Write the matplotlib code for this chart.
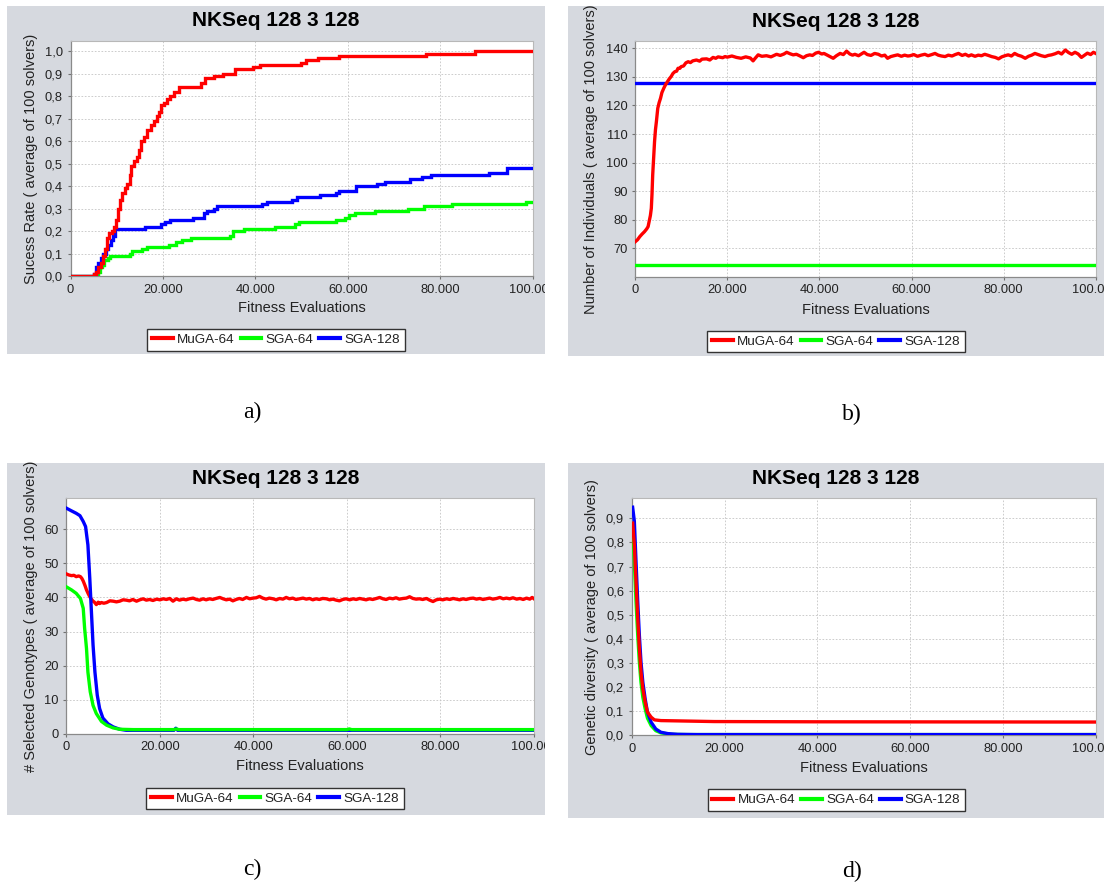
import numpy as np
import matplotlib
matplotlib.use("Agg")
import matplotlib.pyplot as plt
from matplotlib.patches import Rectangle
from matplotlib.lines import Line2D
from matplotlib.transforms import Bbox, TransformedBbox

# ---------------- data ----------------
series_names = ["MuGA-64", "SGA-64", "SGA-128"]
chart_title = "NKSeq 128 3 128"
x_label = "Fitness Evaluations"
x_ticks = [0, 20000, 40000, 60000, 80000, 100000]
x_tick_labels = ["0", "20.000", "40.000", "60.000", "80.000", "100.000"]

# a) success rate (step curves), x in thousands
a_muga_x = [0, 5.0, 5.5, 6.0, 6.5, 7.0, 7.4, 7.8, 8.3, 8.9, 9.4, 9.8, 10.2, 10.6, 11.2, 11.8, 12.3,
            12.8, 13.0, 13.8, 14.4, 14.9, 15.3, 15.9, 16.5, 17.3, 18.0, 18.8, 19.2, 19.6, 20.3, 20.8,
            21.5, 22.3, 23.4, 28.3, 29.0, 31.0, 33.0, 35.5, 39.5, 41.0, 49.8, 51.0, 53.5, 58.0, 77.0,
            87.5, 100]
a_muga_y = [0.00, 0.01, 0.02, 0.04, 0.06, 0.09, 0.12, 0.17, 0.19, 0.20, 0.22, 0.25, 0.30, 0.34, 0.37,
            0.39, 0.41, 0.45, 0.49, 0.51, 0.53, 0.56, 0.60, 0.62, 0.65, 0.67, 0.69, 0.71, 0.73, 0.76,
            0.77, 0.79, 0.80, 0.82, 0.84, 0.86, 0.88, 0.89, 0.90, 0.92, 0.93, 0.94, 0.95, 0.96, 0.97,
            0.98, 0.99, 1.00, 1.00]
a_sga64_x = [0, 5.6, 5.9, 6.3, 6.8, 7.3, 8.0, 8.6, 12.8, 13.3, 15.5, 16.5, 21.2, 22.8, 24.2, 26.0,
             34.5, 35.2, 37.5, 44.3, 48.5, 49.5, 57.5, 59.5, 60.3, 61.5, 66.0, 73.0, 76.5, 82.5, 98.5, 100]
a_sga64_y = [0.00, 0.01, 0.02, 0.04, 0.05, 0.07, 0.08, 0.09, 0.10, 0.11, 0.12, 0.13, 0.14, 0.15, 0.16,
             0.17, 0.18, 0.20, 0.21, 0.22, 0.23, 0.24, 0.25, 0.26, 0.27, 0.28, 0.29, 0.30, 0.31, 0.32,
             0.33, 0.33]
a_sga128_x = [0, 5.1, 5.5, 5.9, 6.5, 7.0, 7.6, 8.2, 8.7, 9.2, 9.6, 16.0, 19.5, 20.5, 21.6, 26.5, 28.8,
              29.5, 31.0, 31.8, 41.5, 42.5, 48.0, 49.0, 54.0, 57.5, 58.2, 61.8, 66.3, 68.0, 73.5, 76.0,
              78.0, 90.5, 94.5, 100]
a_sga128_y = [0.00, 0.01, 0.04, 0.06, 0.08, 0.10, 0.12, 0.14, 0.16, 0.18, 0.21, 0.22, 0.23, 0.24, 0.25,
              0.26, 0.28, 0.29, 0.30, 0.31, 0.32, 0.33, 0.34, 0.35, 0.36, 0.37, 0.38, 0.40, 0.41, 0.42,
              0.43, 0.44, 0.45, 0.46, 0.48, 0.48]

# b) number of individuals
b_muga_x = [0, 0.5, 1.0, 1.5, 2.0, 2.5, 2.8, 3.1, 3.3, 3.5, 3.65, 3.8, 4.0, 4.2, 4.4, 4.6, 4.9, 5.2, 5.5,
            5.8, 6.2, 6.6, 7.0, 7.4, 7.8, 8.2, 8.6, 9.0, 9.3, 9.7, 10.0, 10.5, 11.0, 11.5, 12.0, 12.5,
            13.3, 14.0, 14.5, 15.5, 16.2, 16.9, 17.5, 18.0, 19.0, 19.5,
            20, 21, 22, 23, 24, 25, 25.6, 26, 26.7, 27.5, 28.5, 29.5, 30.7, 31.5, 32.3, 32.9, 33.6,
            34.3, 35.0, 35.8, 36.5, 37.2, 37.9, 38.5, 39.2, 39.8, 40.5, 41.0, 41.6, 42.3, 43.0, 43.7,
            44.5, 45.2, 45.9, 46.6, 47.2, 47.7, 48.5, 49.2, 49.7, 50.4, 51.2, 52.0, 52.8, 53.5, 54.2,
            54.8, 55.5, 56.2, 57.0, 57.8, 58.5, 59.2, 59.7, 60.5, 61.3, 62.1, 62.9, 63.6, 64.4, 65.1,
            65.8, 66.5, 67.3, 68.0, 68.8, 69.5, 70.2, 71.0, 71.7, 72.4, 73.0, 73.8, 74.5, 75.2, 75.9,
            76.7, 77.4, 78.2, 78.9, 79.6, 80.3, 81.0, 81.7, 82.4, 83.1, 83.9, 84.7, 85.4, 86.1, 86.8,
            87.5, 88.2, 89.0, 89.7, 90.4, 91.2, 91.9, 92.6, 93.4, 94.1, 94.8, 95.5, 96.2, 96.9, 97.5,
            98.2, 98.9, 99.5, 100]
b_muga_y = [72.3, 73.0, 74.1, 75.0, 75.8, 76.8, 77.6, 79.9, 81.5, 84.0, 89.0, 95.7, 101.5, 107.3, 111.5,
            114.3, 119.0, 121.0, 122.5, 124.5, 126.0, 127.3, 128.3, 129.3, 130.1, 131.2, 131.8, 132.0,
            133.0, 133.0, 133.6, 133.8, 134.9, 135.3, 135.0, 135.6, 135.9, 135.5, 136.2, 136.3, 135.9,
            136.8, 136.5, 137.0, 136.7, 137.1,
            136.9, 137.3, 136.8, 136.5, 137.0, 136.6, 135.6, 136.4, 137.7, 137.2, 137.4, 137.0, 137.9,
            137.5, 138.0, 138.6, 138.1, 137.7, 137.9, 137.3, 136.7, 137.4, 137.7, 137.5, 138.3, 138.6,
            138.0, 138.2, 137.7, 137.1, 136.5, 137.4, 138.2, 137.8, 139.0, 138.0, 137.6, 137.9, 137.4,
            138.1, 138.6, 137.8, 137.5, 138.2, 137.9, 137.3, 137.6, 136.5, 137.1, 137.4, 137.7, 137.2,
            137.6, 137.3, 137.4, 137.8, 137.2, 137.6, 137.9, 137.4, 137.8, 138.2, 137.6, 137.3, 137.1,
            137.6, 137.3, 137.8, 138.2, 137.5, 137.9, 137.3, 137.7, 137.2, 137.6, 137.4, 137.9, 137.5,
            137.1, 136.8, 136.3, 137.0, 137.4, 137.7, 137.3, 138.2, 137.6, 137.2, 136.5, 137.2, 137.6,
            138.2, 137.8, 137.4, 137.1, 137.5, 137.7, 138.1, 138.6, 138.0, 139.4, 138.5, 137.9, 138.6,
            138.0, 136.8, 137.5, 138.3, 137.8, 138.6, 138.2]
b_sga64_x = [0, 100]
b_sga64_y = [64, 64]
b_sga128_x = [0, 100]
b_sga128_y = [128, 128]

# c) selected genotypes
c_muga_x = [0, 0.5, 1.1, 1.6, 2.1, 2.6, 3.0, 3.3, 3.6, 4.0, 4.3, 4.7, 5.0, 5.4, 5.7, 6.0, 6.4, 6.8, 7.1,
            7.5, 8.0, 8.6, 9.3, 10.0, 10.7, 11.4, 12.1, 12.8, 13.5, 14.2, 15.0, 15.7, 16.4, 17.1, 17.8,
            18.5, 19.3, 20.0, 20.7, 21.4, 22.1, 22.8, 23.5, 24.2, 24.9, 25.6, 26.3, 27.1, 27.8, 28.5,
            29.2, 29.9, 30.6, 31.3, 32.0, 32.8, 33.5, 34.2, 34.9, 35.6, 36.3, 37.0, 37.7, 38.5, 39.2,
            39.9, 40.6, 41.3, 42.0, 42.7, 43.4, 44.2, 44.9, 45.6, 46.3, 47.0, 47.7, 48.4, 49.1, 49.9,
            50.6, 51.3, 52.0, 52.7, 53.4, 54.1, 54.8, 55.6, 56.3, 57.0, 57.7, 58.4, 59.1, 59.8, 60.6,
            61.3, 62.0, 62.7, 63.4, 64.1, 64.8, 65.5, 66.3, 67.0, 67.7, 68.4, 69.1, 69.8, 70.5, 71.2,
            72.0, 72.7, 73.4, 74.1, 74.8, 75.5, 76.2, 77.0, 77.7, 78.4, 79.1, 79.8, 80.5, 81.3, 82.0,
            82.7, 83.4, 84.1, 84.8, 85.5, 86.3, 87.0, 87.7, 88.4, 89.1, 89.8, 90.5, 91.2, 92.0, 92.7,
            93.4, 94.1, 94.8, 95.5, 96.3, 97.0, 97.7, 98.4, 99.1, 99.6, 100]
c_muga_y = [46.9, 46.6, 46.4, 46.5, 46.1, 46.3, 46.1, 45.6, 44.8, 43.4, 42.2, 41.0, 40.2, 39.4, 38.9,
            38.6, 37.9, 38.6, 38.2, 38.5, 38.3, 38.5, 39.0, 38.9, 38.7, 38.9, 39.3, 39.2, 39.0, 39.4,
            38.9, 39.3, 39.6, 39.2, 39.4, 39.1, 39.5, 39.3, 39.6, 39.4, 39.7, 38.9, 39.6, 39.2, 39.5,
            39.3, 39.6, 39.8, 39.4, 39.2, 39.6, 39.3, 39.6, 39.4, 39.7, 40.0, 39.6, 39.3, 39.5, 39.0,
            39.4, 39.7, 39.4, 40.0, 39.6, 39.8, 39.9, 40.3, 39.8, 39.5, 39.8, 39.6, 39.3, 39.7, 39.5,
            40.0, 39.6, 39.8, 39.4, 39.6, 39.8, 39.5, 39.7, 39.3, 39.6, 39.4, 39.7, 39.6, 39.3, 39.5,
            39.2, 39.0, 39.4, 39.6, 39.3, 39.6, 39.4, 39.7, 39.5, 39.3, 39.6, 39.4, 39.7, 40.0, 39.6,
            39.4, 39.8, 39.6, 39.9, 39.5, 39.7, 39.8, 40.2, 39.7, 39.5, 39.6, 39.4, 39.7, 39.2, 38.8,
            39.3, 39.5, 39.3, 39.6, 39.4, 39.7, 39.5, 39.3, 39.6, 39.4, 39.7, 39.8, 39.5, 39.7, 39.4,
            39.6, 39.8, 39.5, 39.7, 40.0, 39.6, 39.8, 39.6, 39.9, 39.5, 39.7, 39.4, 39.8, 39.5, 40.0,
            39.6]
c_sga64_x = [0, 1.1, 2.1, 3.0, 3.6, 3.9, 4.3, 4.6, 5.1, 5.7, 6.4, 7.5, 8.6, 10.0, 11.4, 14.3, 23.0, 23.5,
             24.0, 40.0, 60.0, 60.5, 61.0, 100]
c_sga64_y = [43.1, 42.2, 41.2, 39.7, 36.8, 30.9, 25.0, 18.1, 12.3, 8.3, 5.9, 3.6, 2.5, 1.7, 1.3, 1.2,
             1.2, 1.4, 1.2, 1.2, 1.2, 1.4, 1.2, 1.2]
c_sga128_x = [0, 1.1, 2.1, 2.9, 3.6, 4.1, 4.6, 5.0, 5.35, 5.7, 6.1, 6.6, 7.1, 7.8, 8.9, 10.0, 11.4,
              12.8, 23.0, 23.4, 23.8, 100]
c_sga128_y = [66.2, 65.4, 64.7, 64.0, 62.3, 60.8, 55.4, 45.6, 35.8, 26.0, 18.1, 11.3, 7.4, 4.6, 2.9,
              2.0, 1.3, 1.0, 1.0, 1.6, 1.0, 1.0]

# d) genetic diversity
d_muga_x = [0.2, 0.57, 0.93, 1.3, 1.65, 2.0, 2.4, 2.9, 3.4, 4.2, 4.9, 6.3, 9.2, 17.8, 40, 70, 100]
d_muga_y = [0.88, 0.79, 0.637, 0.485, 0.36, 0.262, 0.193, 0.1375, 0.096, 0.075, 0.064, 0.061, 0.060,
            0.057, 0.056, 0.0555, 0.055]
d_sga64_x = [0.2, 0.57, 0.93, 1.3, 1.65, 2.0, 2.4, 2.9, 3.4, 4.2, 5.2, 6.3, 8.5, 12, 100]
d_sga64_y = [0.874, 0.72, 0.554, 0.415, 0.304, 0.22, 0.158, 0.11, 0.071, 0.04, 0.019, 0.010, 0.004,
             0.003, 0.003]
d_sga128_x = [0.2, 0.57, 0.93, 1.3, 1.65, 2.0, 2.4, 2.9, 3.4, 4.2, 5.2, 6.3, 7.8, 9.9, 14, 100]
d_sga128_y = [0.946, 0.888, 0.72, 0.554, 0.415, 0.304, 0.22, 0.151, 0.096, 0.054, 0.026, 0.0125, 0.007,
              0.004, 0.003, 0.003]

a_yticks = [0.0, 0.1, 0.2, 0.3, 0.4, 0.5, 0.6, 0.7, 0.8, 0.9, 1.0]
a_ytick_labels = ["0,0", "0,1", "0,2", "0,3", "0,4", "0,5", "0,6", "0,7", "0,8", "0,9", "1,0"]
b_yticks = [70, 80, 90, 100, 110, 120, 130, 140]
b_ytick_labels = ["70", "80", "90", "100", "110", "120", "130", "140"]
c_yticks = [0, 10, 20, 30, 40, 50, 60]
c_ytick_labels = ["0", "10", "20", "30", "40", "50", "60"]
d_yticks = [0.0, 0.1, 0.2, 0.3, 0.4, 0.5, 0.6, 0.7, 0.8, 0.9]
d_ytick_labels = ["0,0", "0,1", "0,2", "0,3", "0,4", "0,5", "0,6", "0,7", "0,8", "0,9"]

a_ylabel = "Sucess Rate ( average of 100 solvers)"
b_ylabel = "Number of Individuals ( average of 100 solvers)"
c_ylabel = "# Selected Genotypes ( average of 100 solvers)"
d_ylabel = "Genetic diversity ( average of 100 solvers)"
panel_letters = ["a)", "b)", "c)", "d)"]

# ---------------- style / layout ----------------
W, H = 1107, 883
fig = plt.figure(figsize=(W / 100, H / 100), dpi=100)
fig.patch.set_facecolor("white")
FONT = "Liberation Sans"
BG = "#d6d9df"
COLORS = ["#ff0000", "#00ff00", "#0000ff"]
LW = 2.4


def fx(x):
    return x / W


def fy(y):
    return 1 - y / H


def panel(gray, plot, title_y, xlabel_y, ylabel_x, legend_c, letter_pos, letter,
          ylim, yticks, yticklabels, ylabel, data, zorders, steps=False):
    gx0, gy0, gx1, gy1 = gray
    rect = Rectangle((fx(gx0), fy(gy1)), (gx1 - gx0) / W, (gy1 - gy0) / H,
                     transform=fig.transFigure, facecolor=BG, edgecolor="none", zorder=-10)
    fig.add_artist(rect)
    l, t, r, b = plot
    ax = fig.add_axes([fx(l), fy(b), (r - l) / W, (b - t) / H])
    ax.set_facecolor("white")
    for (xs, ys), col, z in zip(data, COLORS, zorders):
        xs = np.array(xs) * 1000.0
        if steps:
            ax.plot(xs, ys, color=col, lw=LW, drawstyle="steps-post", zorder=z,
                    solid_joinstyle="miter")
        else:
            ax.plot(xs, ys, color=col, lw=LW, zorder=z, solid_joinstyle="round")
    ax.set_xlim(0, 100000)
    ax.set_ylim(*ylim)
    ax.set_xticks(x_ticks)
    ax.set_xticklabels(x_tick_labels)
    ax.set_yticks(yticks)
    ax.set_yticklabels(yticklabels)
    ax.grid(True, color="#c4c4c4", linestyle=(0, (2, 2)), linewidth=0.6)
    ax.set_axisbelow(True)
    ax.tick_params(axis="both", direction="out", length=2.5, width=0.8, color="#707070",
                   labelsize=9.3, labelcolor="#222222", pad=3)
    for lab in ax.get_xticklabels() + ax.get_yticklabels():
        lab.set_fontfamily(FONT)
    for side in ["left", "bottom"]:
        ax.spines[side].set_color("#8a8a8a")
        ax.spines[side].set_linewidth(0.9)
    for side in ["top", "right"]:
        ax.spines[side].set_color("#b8b8b8")
        ax.spines[side].set_linewidth(0.8)
    clip = TransformedBbox(Bbox([[fx(gx0), fy(gy1)], [fx(gx1), fy(gy0)]]), fig.transFigure)
    for lab in ax.get_xticklabels():
        lab.set_clip_box(clip)
        lab.set_clip_on(True)
    cx = (gx0 + gx1) / 2
    fig.text(fx(cx), fy(title_y), chart_title, ha="center", va="center", fontsize=15,
             fontweight="bold", family=FONT, color="black")
    fig.text(fx((l + r) / 2), fy(xlabel_y), x_label, ha="center", va="center", fontsize=10.5,
             family=FONT, color="#222222")
    fig.text(fx(ylabel_x), fy((t + b) / 2), ylabel, ha="center", va="center", rotation=90,
             fontsize=10.5, family=FONT, color="#222222")
    handles = [Line2D([], [], color=c, lw=3.0) for c in COLORS]
    leg = ax.legend(handles, series_names, loc="center", ncol=3,
                    bbox_to_anchor=(fx(legend_c[0]), fy(legend_c[1])),
                    bbox_transform=fig.transFigure, frameon=True, fancybox=False,
                    framealpha=1, edgecolor="#333333", borderpad=0.35, handlelength=1.55,
                    handletextpad=0.3, columnspacing=0.45, borderaxespad=0,
                    prop={"family": FONT, "size": 9.7})
    leg.get_frame().set_linewidth(1.0)
    for txt in leg.get_texts():
        txt.set_color("#222222")
    fig.text(fx(letter_pos[0]), fy(letter_pos[1]), letter, ha="center", va="center",
             fontsize=17, family="Liberation Serif", color="black")
    return ax


panel((7, 6, 545, 354), (70.6, 41, 532.5, 276), 21, 308, 30.8, (276, 340), (252, 412),
      panel_letters[0], (0, 1.046), a_yticks, a_ytick_labels, a_ylabel,
      [(a_muga_x, a_muga_y), (a_sga64_x, a_sga64_y), (a_sga128_x, a_sga128_y)],
      [5, 3, 4], steps=True)

panel((568, 6, 1104, 356), (635.2, 41, 1095.7, 276.7), 21.5, 310, 591.5, (836, 341.5), (852, 414),
      panel_letters[1], (60.07, 142.55), b_yticks, b_ytick_labels, b_ylabel,
      [(b_muga_x, b_muga_y), (b_sga64_x, b_sga64_y), (b_sga128_x, b_sga128_y)],
      [5, 3, 4])

panel((7, 463, 545, 815), (66.4, 498.3, 534, 733.7), 478, 766, 30.8, (275, 798.5), (252, 869),
      panel_letters[2], (0, 69.1), c_yticks, c_ytick_labels, c_ylabel,
      [(c_muga_x, c_muga_y), (c_sga64_x, c_sga64_y), (c_sga128_x, c_sga128_y)],
      [3, 5, 4])

panel((568, 463, 1104, 818), (631.7, 498.3, 1095.7, 735.3), 478.5, 767.7, 592, (836.5, 800),
      (852, 871), panel_letters[3], (0, 0.983), d_yticks, d_ytick_labels, d_ylabel,
      [(d_muga_x, d_muga_y), (d_sga64_x, d_sga64_y), (d_sga128_x, d_sga128_y)],
      [5, 3, 4])

fig.savefig("out.png", dpi=100, facecolor="white")
